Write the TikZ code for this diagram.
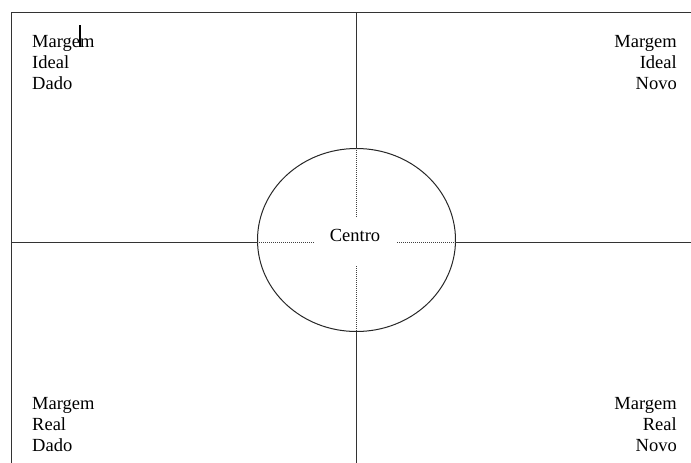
\documentclass[tikz,border=0pt]{standalone}
\usepackage{fontspec}
\setmainfont{Liberation Serif}
\usetikzlibrary{shapes.geometric}
\begin{document}
\begin{tikzpicture}[x=1pt,y=-1pt,
  lbl/.style={inner sep=0pt,font=\fontsize{18.5}{21}\selectfont,text=black},
  lw/.style={lbl,anchor=base west},
  le/.style={lbl,anchor=base east},
  axis/.style={draw=black!80,line width=1pt},
  dotl/.style={draw=black!75,line width=0.9pt,dash pattern=on 1pt off 1pt}]
\useasboundingbox (0,0) rectangle (691,463);
% frame
\coordinate (tl) at (11,12);
\coordinate (tr) at (691,12);
\coordinate (bl) at (11,463);
\coordinate (vt) at (356.5,12);
\coordinate (vb) at (356.5,463);
\coordinate (hl) at (11,242);
\coordinate (hr) at (691,242);
\draw[axis] (bl) -- (tl) -- (tr);
% ellipse
\node[ellipse,draw=black!85,line width=1pt,minimum width=198pt,minimum height=183pt,inner sep=0pt] (c) at (356.5,240) {};
\draw[axis] (vt) -- (vt |- c.north);
\draw[axis] (vb |- c.south) -- (vb);
\draw[axis] (hl) -- (c.west |- hl);
\draw[axis] (c.east |- hr) -- (hr);
% dotted inner cross
\coordinate (d1) at (356.5,217);
\coordinate (d2) at (356.5,266);
\coordinate (d3) at (314,242);
\coordinate (d4) at (397,242);
\draw[dotl] (vt |- c.north) -- (d1);
\draw[dotl] (d2) -- (vb |- c.south);
\draw[dotl] (c.west |- hl) -- (d3);
\draw[dotl] (d4) -- (c.east |- hr);
\node[lbl,anchor=base] (centro) at (355,241) {Centro};
% cursor mark
\coordinate (k1) at (80,25);
\coordinate (k2) at (80,47);
\draw[black,line width=1.6pt] (k1) -- (k2);
% top-left
\node[lw] (a1) at (32,47) {Margem};
\node[lw] (a2) at (32,68) {Ideal};
\node[lw] (a3) at (32,89) {Dado};
% top-right
\node[le] (b1) at (677,47) {Margem};
\node[le] (b2) at (677,68) {Ideal};
\node[le] (b3) at (677,89) {Novo};
% bottom-left
\node[lw] (e1) at (32,409) {Margem};
\node[lw] (e2) at (32,430) {Real};
\node[lw] (e3) at (32,451) {Dado};
% bottom-right
\node[le] (f1) at (677,409) {Margem};
\node[le] (f2) at (677,430) {Real};
\node[le] (f3) at (677,451) {Novo};
\end{tikzpicture}
\end{document}
